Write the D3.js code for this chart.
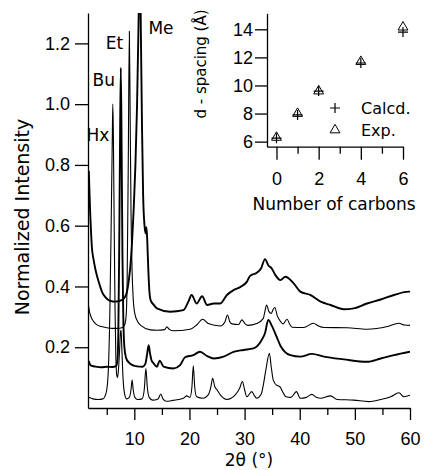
<!DOCTYPE html>
<html>
<head>
<meta charset="utf-8">
<script src="https://cdn.jsdelivr.net/npm/d3@7"></script>
<style>
  body { margin: 0; background: #fff; }
  svg { display: block; font-family: "DejaVu Sans", sans-serif; }
  .axis path, .axis line { stroke: #000; stroke-width: 1.3; }
  .axis text { font-size: 18px; fill: #000; }
  .trace { fill: none; stroke: #000; stroke-linejoin: round; }
</style>
</head>
<body>
<svg id="chart" width="424" height="470"></svg>
<script>
// XRD patterns, [2theta, normalized intensity]
var meTrace = [[1.75,0.78],[1.85,0.72],[2.0,0.64],[2.15,0.58],[2.3,0.53],[2.6,0.49],[2.9,0.46],[3.3,0.43],[3.8,0.40],[4.2,0.38],[4.7,0.366],[5.6,0.353],[6.5,0.35],[7.7,0.355],[8.3,0.365],[8.7,0.385],[9.0,0.42],[9.3,0.47],[9.6,0.55],[9.9,0.66],[10.2,0.8],[10.5,1.0],[10.8,1.3],[11.0,1.5],[11.2,1.22],[11.4,0.92],[11.6,0.7],[11.85,0.6],[12.05,0.575],[12.2,0.595],[12.35,0.55],[12.55,0.45],[12.75,0.38],[12.95,0.355],[13.5,0.34],[14.1,0.328],[16.5,0.317],[18.9,0.322],[19.8,0.35],[20.4,0.372],[21.3,0.344],[22.3,0.368],[23.2,0.339],[24.4,0.344],[25.6,0.344],[26.8,0.372],[28,0.388],[29.2,0.398],[30.4,0.415],[31,0.435],[32.2,0.445],[33.0,0.46],[33.7,0.49],[34.3,0.47],[34.9,0.46],[35.5,0.44],[36.5,0.421],[37.4,0.432],[38.9,0.41],[40.1,0.383],[41.9,0.372],[43.8,0.35],[45.6,0.339],[48,0.325],[49.8,0.328],[52.2,0.344],[54.7,0.357],[57.1,0.372],[59.8,0.383],[60,0.383]];

var etTrace = [[1.7,0.335],[1.9,0.315],[2.2,0.298],[2.6,0.285],[3.1,0.275],[4,0.268],[5,0.264],[6,0.262],[7,0.262],[7.8,0.265],[8.2,0.272],[8.5,0.3],[8.7,0.42],[8.9,0.8],[9.1,1.24],[9.25,0.95],[9.4,0.65],[9.6,0.45],[9.8,0.36],[10.1,0.31],[10.6,0.285],[11.3,0.27],[12.9,0.257],[14.1,0.256],[15.5,0.258],[15.9,0.267],[16.4,0.258],[17.1,0.254],[20.1,0.259],[21.3,0.273],[22.4,0.292],[23.4,0.278],[25.6,0.27],[26.4,0.282],[26.9,0.306],[27.3,0.285],[27.7,0.277],[28.9,0.275],[29.5,0.29],[30.1,0.277],[30.6,0.272],[32.2,0.278],[33.4,0.295],[33.7,0.32],[34,0.339],[34.4,0.318],[34.8,0.311],[35.2,0.325],[35.5,0.331],[35.9,0.305],[36.4,0.288],[37.0,0.277],[37.7,0.292],[38.2,0.275],[38.6,0.266],[40.7,0.265],[42.5,0.279],[43.4,0.27],[44.4,0.265],[48.6,0.264],[52.2,0.259],[55.9,0.268],[58,0.279],[59,0.273],[60,0.272]];

var buTrace = [[1.75,0.155],[2.1,0.14],[3,0.136],[4,0.134],[5,0.136],[6,0.135],[6.7,0.138],[6.95,0.16],[7.1,0.25],[7.25,0.5],[7.4,0.85],[7.55,1.12],[7.7,0.85],[7.85,0.5],[8.0,0.3],[8.2,0.2],[8.5,0.165],[9,0.15],[9.6,0.142],[10.5,0.137],[11.5,0.136],[12.0,0.145],[12.3,0.175],[12.6,0.207],[12.85,0.18],[13.1,0.158],[13.5,0.147],[14.1,0.136],[14.6,0.156],[15.3,0.136],[17.1,0.13],[18.3,0.141],[19.2,0.167],[20.7,0.174],[21.9,0.185],[23.2,0.171],[24.4,0.163],[26.2,0.169],[28,0.185],[29.8,0.191],[31.6,0.196],[33.1,0.224],[33.7,0.246],[34.3,0.29],[34.9,0.272],[35.8,0.235],[36.5,0.205],[37.3,0.185],[38.3,0.174],[40.1,0.169],[42.2,0.178],[44.4,0.169],[48,0.16],[52.2,0.152],[54.7,0.163],[57.1,0.174],[60,0.185]];

var hxTrace = [[1.75,0.035],[2.5,0.03],[3.5,0.028],[4.3,0.03],[4.7,0.04],[5.0,0.06],[5.3,0.13],[5.55,0.3],[5.8,0.6],[6.0,0.88],[6.1,1.0],[6.2,0.9],[6.35,0.6],[6.5,0.33],[6.65,0.17],[6.8,0.11],[6.95,0.1],[7.1,0.12],[7.3,0.18],[7.5,0.25],[7.6,0.256],[7.75,0.19],[7.95,0.1],[8.2,0.05],[8.6,0.03],[9.1,0.035],[9.4,0.06],[9.6,0.092],[9.8,0.06],[10.1,0.035],[10.6,0.028],[11.4,0.03],[11.8,0.06],[12.1,0.13],[12.35,0.07],[12.7,0.035],[13.3,0.026],[14.3,0.03],[14.8,0.046],[15.2,0.03],[15.8,0.022],[17,0.025],[18.9,0.032],[19.5,0.04],[20.1,0.035],[20.45,0.07],[20.7,0.139],[20.95,0.07],[21.3,0.037],[22.5,0.032],[23.4,0.043],[23.9,0.07],[24.2,0.098],[24.6,0.07],[25,0.06],[25.6,0.043],[26.8,0.028],[28.3,0.043],[29.1,0.065],[29.6,0.087],[30.0,0.06],[30.4,0.037],[31.3,0.054],[31.8,0.04],[32.2,0.032],[33.0,0.045],[33.4,0.076],[33.9,0.13],[34.5,0.18],[34.8,0.14],[35.2,0.092],[35.8,0.075],[36.4,0.07],[37.0,0.05],[37.5,0.037],[38.4,0.035],[39.4,0.054],[40.1,0.032],[41.2,0.035],[42.2,0.045],[43.0,0.035],[43.8,0.032],[45.6,0.04],[46.8,0.028],[49.8,0.026],[52.5,0.021],[54.7,0.028],[56.5,0.037],[58.0,0.05],[58.9,0.037],[60,0.042]];

var peakLabels = ["Hx", "Bu", "Et", "Me"];

// inset: d-spacing vs number of carbons
var carbons = [0, 1, 2, 4, 6];
var dCalcd = [6.25, 7.9, 9.6, 11.6, 13.8];
var dExp = [6.3, 8.0, 9.6, 11.7, 14.15];

var xMajor = [10, 20, 30, 40, 50, 60];
var xMinor = [5, 15, 25, 35, 45, 55];
var yTicks = [0.2, 0.4, 0.6, 0.8, 1.0, 1.2];
var insetXMajor = [0, 2, 4, 6];
var insetXMinor = [1, 3, 5];
var insetYTicks = [6, 8, 10, 12, 14];

var svg = d3.select("#chart");

var x = d3.scaleLinear().domain([1.6, 60]).range([88, 410]);
var y = d3.scaleLinear().domain([0, 1.3]).range([408, 13]);

svg.append("defs").append("clipPath").attr("id", "plotClip")
  .append("rect").attr("x", 88).attr("y", 13).attr("width", 322).attr("height", 395);

var line = d3.line()
    .x(function (d) { return x(d[0]); })
    .y(function (d) { return y(d[1]); })
    .curve(d3.curveMonotoneX);

var traces = [
  { data: meTrace, w: 1.9 },
  { data: etTrace, w: 1.1 },
  { data: buTrace, w: 1.9 },
  { data: hxTrace, w: 1.1 }
];

svg.append("g").attr("clip-path", "url(#plotClip)")
  .selectAll("path")
  .data(traces)
  .enter().append("path")
    .attr("class", "trace")
    .attr("stroke-width", function (d) { return d.w; })
    .attr("d", function (d) { return line(d.data); });

// main axes
svg.append("g")
    .attr("class", "axis")
    .attr("transform", "translate(88,0)")
    .call(d3.axisLeft(y).tickValues(yTicks).tickFormat(d3.format(".1f"))
      .tickSize(13).tickPadding(5).tickSizeOuter(0));

svg.append("g")
    .attr("class", "axis")
    .attr("transform", "translate(0,408)")
    .call(d3.axisBottom(x).tickValues(xMajor).tickSize(12).tickPadding(12).tickSizeOuter(0));

svg.append("g")
    .attr("class", "axis")
    .attr("transform", "translate(0,408)")
    .call(d3.axisBottom(x).tickValues(xMinor).tickSize(7).tickFormat(""))
    .select(".domain").remove();

svg.append("text")
    .attr("transform", "translate(29,217) rotate(-90)")
    .attr("text-anchor", "middle")
    .style("font-size", "19px")
    .text("Normalized Intensity");

svg.append("text")
    .attr("x", 249).attr("y", 466)
    .attr("text-anchor", "middle")
    .style("font-size", "17px")
    .text("2θ (°)");

// peak labels
var labelPos = [[5.46, 0.88, "end"], [6.5, 1.06, "end"], [8.0, 1.18, "end"], [12.55, 1.23, "start"]];
svg.selectAll(".peak")
  .data(peakLabels)
  .enter().append("text")
    .attr("class", "peak")
    .attr("x", function (d, i) { return x(labelPos[i][0]); })
    .attr("y", function (d, i) { return y(labelPos[i][1]); })
    .attr("text-anchor", function (d, i) { return labelPos[i][2]; })
    .style("font-size", "17px")
    .text(function (d) { return d; });

// inset
var xi = d3.scaleLinear().domain([-0.45, 6]).range([267, 403]);
var yi = d3.scaleLinear().domain([5.64, 15.14]).range([146.7, 13.3]);

svg.append("g")
    .attr("class", "axis")
    .attr("transform", "translate(267,0)")
    .call(d3.axisLeft(yi).tickValues(insetYTicks).tickSize(12).tickPadding(2).tickSizeOuter(0));

svg.append("g")
    .attr("class", "axis")
    .attr("transform", "translate(0,146.7)")
    .call(d3.axisBottom(xi).tickValues(insetXMajor).tickFormat(d3.format("d"))
      .tickSize(13).tickPadding(13).tickSizeOuter(0));

svg.append("g")
    .attr("class", "axis")
    .attr("transform", "translate(0,146.7)")
    .call(d3.axisBottom(xi).tickValues(insetXMinor).tickSize(7).tickFormat(""))
    .select(".domain").remove();

svg.append("text")
    .attr("transform", "translate(206,64) rotate(-90)")
    .attr("text-anchor", "middle")
    .style("font-size", "15px")
    .text("d - spacing (Å)");

svg.append("text")
    .attr("x", 334).attr("y", 210)
    .attr("text-anchor", "middle")
    .style("font-size", "17px")
    .text("Number of carbons");

var plus = "M-5,0H5M0,-5V5";
var tri = d3.symbol().type(d3.symbolTriangle).size(42);

svg.append("g").selectAll("path")
  .data(carbons)
  .enter().append("path")
    .attr("transform", function (d, i) { return "translate(" + xi(d) + "," + yi(dCalcd[i]) + ")"; })
    .attr("d", plus)
    .attr("stroke", "#000").attr("stroke-width", 1.2).attr("fill", "none");

svg.append("g").selectAll("path")
  .data(carbons)
  .enter().append("path")
    .attr("transform", function (d, i) { return "translate(" + xi(d) + "," + yi(dExp[i]) + ")"; })
    .attr("d", tri)
    .attr("stroke", "#000").attr("stroke-width", 1).attr("fill", "none");

// legend
var legend = svg.append("g").attr("transform", "translate(335,108)");
legend.append("path").attr("d", plus).attr("stroke", "#000").attr("stroke-width", 1.2);
legend.append("text").attr("x", 26).attr("y", 6).style("font-size", "16px").text("Calcd.");
legend.append("path").attr("transform", "translate(0,22)").attr("d", tri)
    .attr("stroke", "#000").attr("stroke-width", 1).attr("fill", "none");
legend.append("text").attr("x", 26).attr("y", 28).style("font-size", "16px").text("Exp.");
</script>
</body>
</html>
